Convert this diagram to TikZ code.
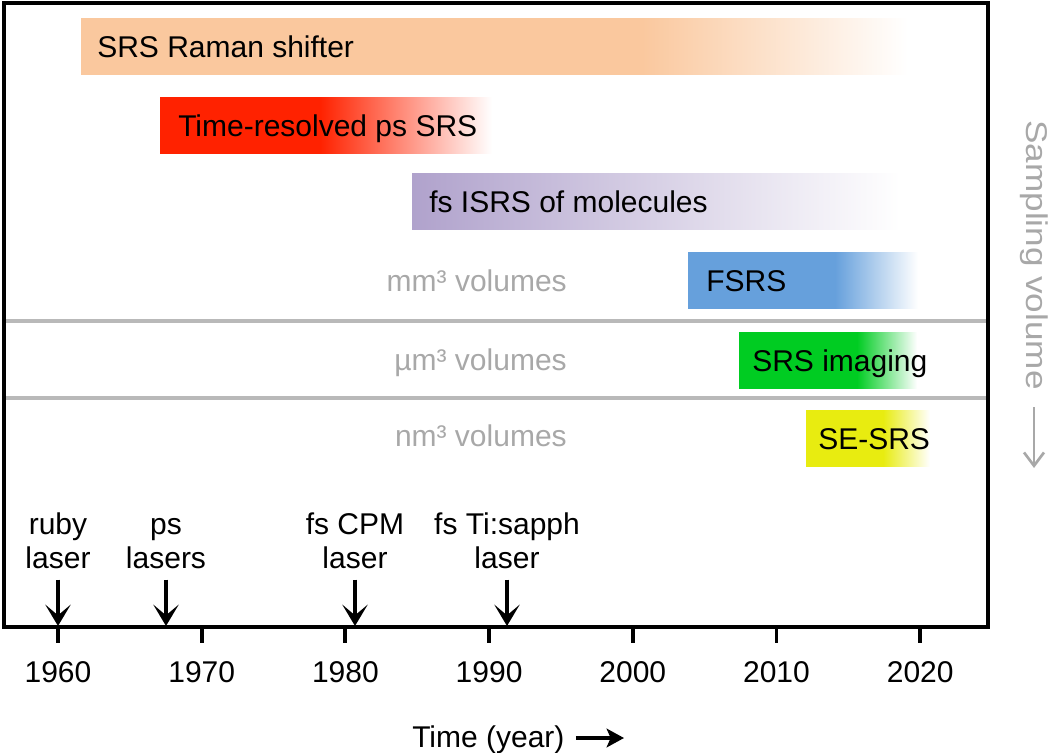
\documentclass[tikz,border=0pt]{standalone}
\usepackage{fontspec}
\setmainfont{Liberation Sans}
\usetikzlibrary{positioning, arrows.meta}

\definecolor{peach}{RGB}{250,200,158}
\definecolor{srsred}{RGB}{255,34,0}
\definecolor{lavender}{RGB}{176,162,204}
\definecolor{fsblue}{RGB}{102,160,220}
\definecolor{imgreen}{RGB}{0,204,34}
\definecolor{seyellow}{RGB}{232,236,16}
\definecolor{volgray}{RGB}{168,168,168}
\definecolor{sepgray}{RGB}{185,185,185}

\newcommand\figfont{\fontsize{22.5}{25.5}\selectfont}

\begin{document}
\begin{tikzpicture}[
    x=0.75pt, y=-0.75pt,
    lbl/.style={inner sep=0pt, font=\figfont},
    bartxt/.style={lbl, anchor=base west},
    voltxt/.style={lbl, anchor=base east, text=volgray},
    lasertxt/.style={lbl, align=center, anchor=south},
    arr/.style={-{Stealth[length=16pt, width=19pt, inset=8pt]}, line width=3pt},
    grayarr/.style={-{Straight Barb[length=10pt, width=15pt]}, line width=2pt, draw=volgray},
    timearr/.style={-{Stealth[length=13pt, width=14pt, inset=3pt]}, line width=3.2pt},
    sep/.style={draw=sepgray, line width=2.4pt},
    frame/.style={line width=2.9pt}
  ]
  \useasboundingbox (0,0) rectangle (1050,753);

  % bars: start / end of solid part / end of fade / top / colour / text x / name / text
  \foreach \xa/\xb/\xc/\yt/\col/\xt/\nm/\txt in {
      81/642/908/18/peach/97/shifter/{SRS Raman shifter},
      160/320/492/97/srsred/178/psrs/{Time-resolved ps SRS},
      412/412/900/173/lavender/429/isrs/{fs ISRS of molecules},
      688/835/918/252/fsblue/706/fsrs/{FSRS},
      739/857/917/332/imgreen/752/imaging/{SRS imaging},
      806/883/930/410/seyellow/818/sesrs/{SE-SRS}} {
    \pgfmathsetmacro\fr{25+(\xb-\xa)/(\xc-\xa)*50}
    \pgfdeclarehorizontalshading{fade\nm}{100bp}{color(0bp)=(\col); color(\fr bp)=(\col); color(75bp)=(white); color(100bp)=(white)}
    \shade[shading=fade\nm] (\xa,\yt) rectangle (\xc,\yt+56);
    \node[bartxt] (\nm) at (\xt,\yt+39) {\txt};
  }

  % sampling volume rows
  \draw[sep] (4,321) -- (988,321);
  \draw[sep] (4,398) -- (988,398);
  \node[voltxt] (mmvol) at (567,291) {mm³ volumes};
  \node[voltxt] (umvol) at (567,370) {µm³ volumes};
  \node[voltxt] (nmvol) at (567,446) {nm³ volumes};

  \node[lbl, rotate=-90, xscale=1.17, text=volgray] (samp) at (1034,255) {Sampling volume};
  \coordinate (sampend) at (1034,468);
  \draw[grayarr] ([yshift=-13pt]samp.east) -- (samp.east |- sampend);

  \draw[frame] (4,3) rectangle (988,627);

  % time axis
  \foreach \yr in {1960,1970,...,2020} {
    \draw[frame] ({58+(\yr-1960)*14.37},627) -- ++(0,16);
    \node[lbl] (y\yr) at ({58+(\yr-1960)*14.37},672) {\yr};
  }
  \node[lbl, anchor=base west] (time) at (412,747) {Time (year)};
  \coordinate (timeend) at (624,738);
  \draw[timearr] (time.east |- timeend) ++(11,0) -- (timeend);

  % lasers
  \coordinate (ax) at (0,626);
  \node[lasertxt] (ruby) at (58,569) {ruby\\laser};
  \node[lasertxt] (pslas) at (166,569) {ps\\lasers};
  \node[lasertxt] (cpm) at (355,569) {fs CPM\\laser};
  \node[lasertxt] (tisa) at (507,569) {fs Ti:sapph\\laser};
  \foreach \n in {ruby,pslas,cpm,tisa}
    \draw[arr] ([yshift=-8pt]\n.south) -- (\n.south |- ax);
\end{tikzpicture}
\end{document}
